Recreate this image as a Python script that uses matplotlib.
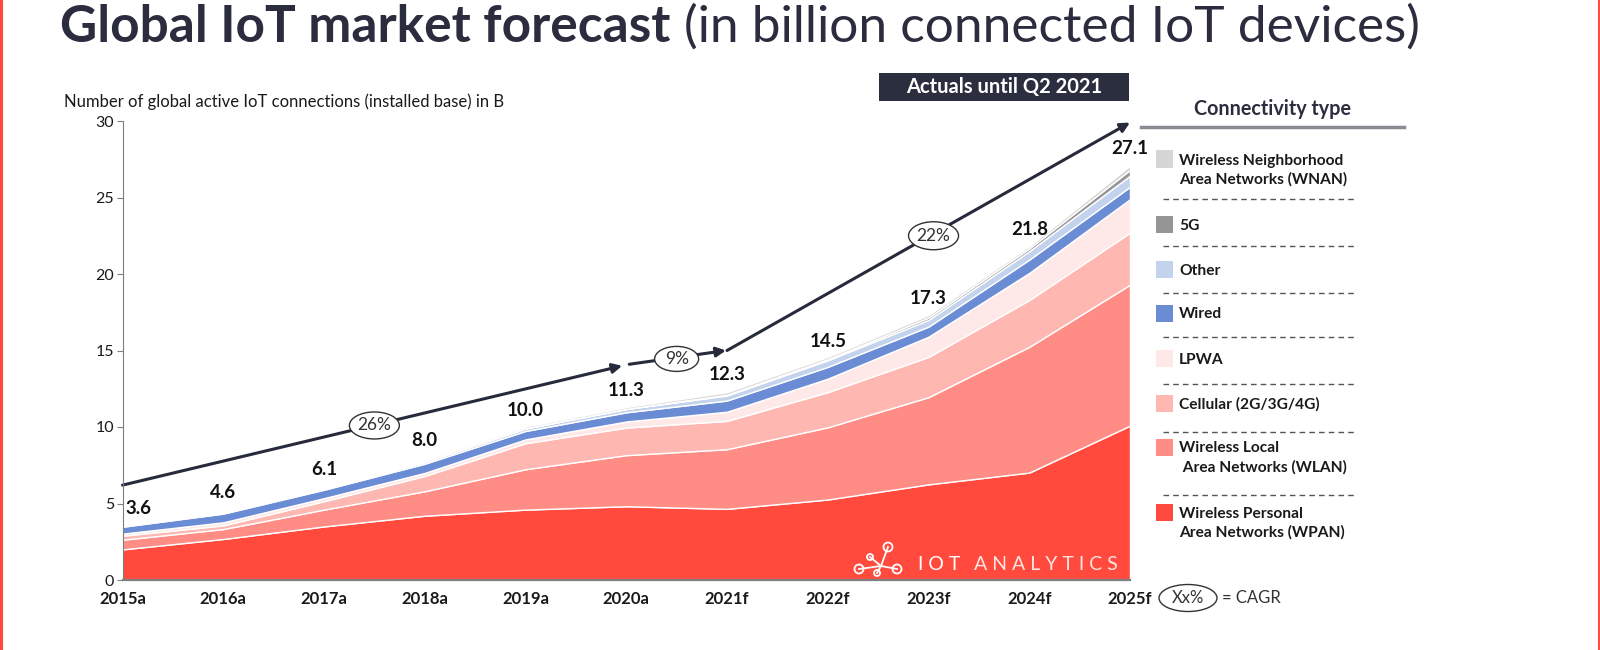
import matplotlib.pyplot as plt
import matplotlib.transforms as mtransforms
from matplotlib.patches import Ellipse, Rectangle, Circle
from matplotlib.lines import Line2D

plt.rcParams['font.family'] = ['Lato', 'DejaVu Sans']

# Dados (bilhoes de conexoes IoT)
anos = ['2015a', '2016a', '2017a', '2018a', '2019a', '2020a',
        '2021f', '2022f', '2023f', '2024f', '2025f']
totais = [3.6, 4.6, 6.1, 8.0, 10.0, 11.3, 12.3, 14.5, 17.3, 21.8, 27.1]

wpan     = [2.00, 2.68, 3.50, 4.20, 4.60, 4.82, 4.65, 5.26, 6.25, 7.02, 10.09]
wlan     = [0.63, 0.65, 1.10, 1.60, 2.64, 3.34, 3.90, 4.72, 5.70, 8.22, 9.21]
cellular = [0.26, 0.24, 0.55, 1.00, 1.70, 1.80, 1.85, 2.30, 2.63, 3.06, 3.40]
lpwa     = [0.14, 0.20, 0.20, 0.20, 0.25, 0.40, 0.60, 0.88, 1.32, 1.77, 2.19]
wired    = [0.45, 0.57, 0.55, 0.60, 0.55, 0.60, 0.73, 0.77, 0.66, 0.87, 0.81]
other    = [0.05, 0.06, 0.08, 0.12, 0.17, 0.22, 0.33, 0.43, 0.44, 0.55, 0.73]
g5       = [0.00, 0.00, 0.00, 0.00, 0.00, 0.00, 0.05, 0.07, 0.15, 0.18, 0.37]
wnan     = [0.05, 0.05, 0.05, 0.10, 0.11, 0.12, 0.17, 0.15, 0.17, 0.15, 0.28]

camadas = [wpan, wlan, cellular, lpwa, wired, other, g5, wnan]
cores = ['#FF4A3D', '#FF8D85', '#FFB7B2', '#FFE8E8',
         '#6A8CD5', '#C3D3EE', '#959595', '#D6D6D6']

# Legenda (de cima para baixo)
legenda_textos = ['Wireless Neighborhood\nArea Networks (WNAN)', '5G', 'Other', 'Wired',
                  'LPWA', 'Cellular (2G/3G/4G)', 'Wireless Local\n Area Networks (WLAN)',
                  'Wireless Personal\nArea Networks (WPAN)']
legenda_cores = cores[::-1]

# CAGR
cagr_textos = ['26%', '9%', '22%']
cagr_x = [2.5, 5.5, 8.05]
cagr_y = [10.1, 14.45, 22.5]
seta_inicio = [(0.0, 6.2), (5.03, 14.1), (6.0, 15.0)]
seta_fim = [(4.96, 14.0), (5.99, 15.0), (10.0, 29.9)]

W, H = 1600, 650
def fx(p):
    return p / W
def fy(p):
    return 1 - p / H

fig = plt.figure(figsize=(16, 6.5), dpi=100)
ax = fig.add_axes([fx(122.5), fy(580), fx(1130 - 122.5), (580 - 121) / H])

x = list(range(len(anos)))
ax.stackplot(x, *camadas, colors=cores, edgecolor='white', linewidth=1.0)

ax.set_xlim(0, 10)
ax.set_ylim(0, 30)
ax.set_xticks(x)
ax.set_xticklabels(anos, fontsize=12, fontweight='bold', color='#1A1A1A')
ax.set_yticks([0, 5, 10, 15, 20, 25, 30])
ax.tick_params(axis='x', length=0, pad=8)
ax.tick_params(axis='y', length=4, color='#7F7F7F', labelsize=11.5, labelcolor='#1A1A1A', pad=2)
for s in ['top', 'right']:
    ax.spines[s].set_visible(False)
ax.spines['left'].set_color('#7F7F7F')
ax.spines['bottom'].set_color('#7F7F7F')
ax.spines['bottom'].set_linewidth(1.6)
ax.spines['left'].set_zorder(5)
ax.spines['bottom'].set_zorder(5)

# Totais
for i, v in enumerate(totais):
    dx = 0.16 if i == 0 else 0
    ax.text(i + dx, v + 1.1, f'{v:.1f}', ha='center', va='center',
            fontsize=13.5, fontweight='bold', color='#111111')

# Setas CAGR
for (x0, y0), (x1, y1) in zip(seta_inicio, seta_fim):
    ax.annotate('', xy=(x1, y1), xytext=(x0, y0), annotation_clip=False,
                arrowprops=dict(arrowstyle='-|>', color='#262A3B', lw=2.2,
                                mutation_scale=14, shrinkA=0, shrinkB=0))

tam_oval = {'26%': (0.50, 0.27), '9%': (0.44, 0.25), '22%': (0.50, 0.28)}
for t, cx, cy in zip(cagr_textos, cagr_x, cagr_y):
    tr = fig.dpi_scale_trans + mtransforms.ScaledTranslation(cx, cy, ax.transData)
    w, h = tam_oval[t]
    ax.add_patch(Ellipse((0, 0), w, h, transform=tr, facecolor='white',
                         edgecolor='#333333', lw=1.0, zorder=6, clip_on=False))
    ax.text(cx, cy, t, ha='center', va='center', fontsize=12.5, color='#333333', zorder=7)

# Titulo
fig.text(fx(60), fy(27), 'Global IoT market forecast', fontsize=37, fontweight='bold',
         color='#2B2D3E', va='center', ha='left')
fig.text(fx(684), fy(27), '(in billion connected IoT devices)', fontsize=37,
         color='#2B2D3E', va='center', ha='left')
fig.text(fx(64), fy(102), 'Number of global active IoT connections (installed base) in B',
         fontsize=12, color='#1A1A1A', va='center', ha='left')

# Caixa "Actuals"
fig.patches.append(Rectangle((fx(879), fy(101)), fx(1129 - 879), (101 - 73) / H,
                             transform=fig.transFigure, facecolor='#2B2E3F', edgecolor='none'))
fig.text(fx(1004), fy(87), 'Actuals until Q2 2021', fontsize=14.5, fontweight='bold',
         color='white', ha='center', va='center')

# Legenda
fig.text(fx(1272), fy(109), 'Connectivity type', fontsize=14.2, fontweight='bold',
         color='#2B2D3E', ha='center', va='center')
fig.add_artist(Line2D([fx(1141), fx(1404)], [fy(126.5), fy(126.5)], color='#8A8C93', lw=2.5))

leg_y = [159, 224, 269, 313, 358, 403, 447, 512]
tracos_y = [199, 246, 293, 337, 384, 432, 495]
for t, c, yy in zip(legenda_textos, legenda_cores, leg_y):
    fig.patches.append(Rectangle((fx(1156), fy(yy + 8.5)), fx(17), 17 / H,
                                 transform=fig.transFigure, facecolor=c, edgecolor='none'))
    fig.text(fx(1179), fy(yy - 5.5), t, fontsize=11.2, fontweight='bold', color='#1A1A1A',
             ha='left', va='top', linespacing=1.4)
for yy in tracos_y:
    fig.add_artist(Line2D([fx(1163), fx(1356)], [fy(yy), fy(yy)], color='#555555',
                          lw=1.0, ls=(0, (4, 3))))

# Legenda CAGR
tr = fig.dpi_scale_trans + mtransforms.ScaledTranslation(fx(1188), fy(598), fig.transFigure)
fig.add_artist(Ellipse((0, 0), 0.58, 0.27, transform=tr, facecolor='white',
                       edgecolor='#333333', lw=1.0))
fig.text(fx(1188), fy(598), 'Xx%', fontsize=12, color='#333333', ha='center', va='center')
fig.text(fx(1222), fy(598), '= CAGR', fontsize=12, color='#333333', ha='left', va='center')

# Logo IoT Analytics
nos = [(888, 547), (859, 569), (870, 557), (877, 573), (897, 569)]
juncao = (881, 566)
for nx, ny in nos:
    fig.add_artist(Line2D([juncao[0] / 100, nx / 100], [(H - juncao[1]) / 100, (H - ny) / 100],
                          transform=fig.dpi_scale_trans, color='white', lw=1.3))
for k, (nx, ny) in enumerate(nos):
    r = 0.045 if k in (0, 1, 4) else 0.03
    fig.add_artist(Circle((nx / 100, (H - ny) / 100), r, transform=fig.dpi_scale_trans,
                          facecolor='#FF4A3D', edgecolor='white', lw=1.3))
fig.text(fx(918), fy(564), 'I O T', fontsize=14, color='white', ha='left', va='center')
fig.text(fx(974), fy(564), 'A N A L Y T I C S', fontsize=14, fontweight='normal',
         color='#FFE4E1', ha='left', va='center')

# Bordas vermelhas
fig.add_artist(Line2D([fx(1.2), fx(1.2)], [0, 1], color='#FF4A3D', lw=2.2))
fig.add_artist(Line2D([fx(1598.5), fx(1598.5)], [0, 1], color='#FF4A3D', lw=2.2))

fig.savefig('out.png', dpi=100)
